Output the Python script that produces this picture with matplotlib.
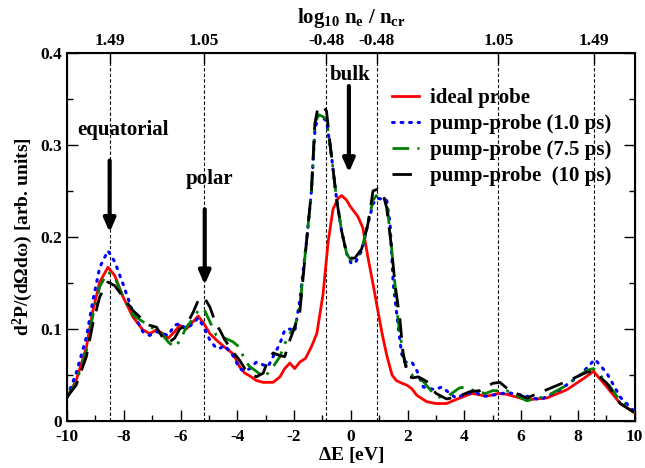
import matplotlib
matplotlib.use("Agg")
import matplotlib.pyplot as plt
from matplotlib.ticker import MultipleLocator

plt.rcParams['font.family'] = ['Liberation Serif', 'DejaVu Serif']
plt.rcParams['font.weight'] = 'bold'
plt.rcParams['axes.unicode_minus'] = False
plt.rcParams['mathtext.fontset'] = 'custom'
plt.rcParams['mathtext.rm'] = 'Liberation Serif:bold'
plt.rcParams['mathtext.it'] = 'Liberation Serif:bold'
plt.rcParams['mathtext.bf'] = 'Liberation Serif:bold'

# ---- data ----
red_E = [-10, -9.68, -9.32, -9.09, -8.85, -8.56, -8.32, -8.03, -7.68, -7.33, -7.09, -6.85, -6.62, -6.44,
         -6.21, -6.03, -5.8, -5.56, -5.38, -5.18, -4.97, -4.74, -4.44, -4.15, -3.92, -3.74, -3.56, -3.33,
         -3.09, -2.74, -2.5, -2.33, -2.15, -1.98, -1.8, -1.6, -1.4, -1.2, -0.98, -0.8, -0.63, -0.45, -0.33,
         -0.15, -0.04, 0.25, 0.42, 0.6, 0.78, 0.95, 1.1, 1.26, 1.45, 1.6, 1.8, 1.97, 2.15, 2.32, 2.67, 3.0,
         3.37, 3.84, 4.26, 4.79, 5.2, 5.49, 6.2, 6.9, 7.61, 8.19, 8.55, 9.02, 9.49, 10]
red_v = [0.026, 0.044, 0.08, 0.12, 0.151, 0.167, 0.158, 0.135, 0.113, 0.099, 0.095, 0.099, 0.095, 0.09,
         0.097, 0.104, 0.1, 0.108, 0.114, 0.106, 0.095, 0.088, 0.08, 0.073, 0.059, 0.052, 0.049, 0.044,
         0.042, 0.042, 0.048, 0.057, 0.063, 0.057, 0.064, 0.068, 0.08, 0.095, 0.138, 0.195, 0.23, 0.242, 0.245,
         0.24, 0.234, 0.222, 0.21, 0.178, 0.149, 0.12, 0.095, 0.072, 0.05, 0.044, 0.041, 0.039, 0.035, 0.028,
         0.021, 0.019, 0.019, 0.025, 0.03, 0.027, 0.03, 0.029, 0.023, 0.025, 0.034, 0.046, 0.054, 0.037, 0.019,
         0.009]

blue_E = [-10, -9.68, -9.32, -9.09, -8.85, -8.56, -8.32, -8.03, -7.68, -7.33, -7.09, -6.85, -6.62, -6.44,
          -6.21, -6.03, -5.8, -5.56, -5.38, -5.18, -4.97, -4.74, -4.62, -4.44, -4.15, -3.92, -3.74, -3.56,
          -3.33, -3.09, -2.92, -2.74, -2.5, -2.33, -2.15, -1.98, -1.8, -1.56, -1.39, -1.27, -1.16, -1.0,
          -0.86, -0.68, -0.5, -0.33, -0.15, 0.0, 0.14, 0.38, 0.6, 0.78, 0.95, 1.26, 1.38, 1.49, 1.67, 1.79,
          1.9, 2.15, 2.32, 2.55, 2.96, 3.2, 3.7, 4.1, 4.4, 4.7, 5.0, 5.5, 6.07, 6.67, 7.37, 8.08, 8.6, 9.02,
          9.49, 10]
blue_v = [0.026, 0.052, 0.091, 0.131, 0.167, 0.185, 0.173, 0.149, 0.118, 0.097, 0.093, 0.097, 0.095, 0.093,
          0.104, 0.106, 0.1, 0.106, 0.112, 0.102, 0.088, 0.079, 0.079, 0.082, 0.071, 0.057, 0.054, 0.057,
          0.064, 0.061, 0.059, 0.07, 0.084, 0.099, 0.1, 0.097, 0.131, 0.196, 0.25, 0.315, 0.332, 0.33,
          0.326, 0.287, 0.24, 0.207, 0.182, 0.172, 0.171, 0.185, 0.214, 0.236, 0.242, 0.24, 0.215, 0.15,
          0.102, 0.073, 0.064, 0.064, 0.055, 0.037, 0.034, 0.037, 0.025, 0.03, 0.031, 0.027, 0.028, 0.031,
          0.028, 0.023, 0.034, 0.05, 0.067, 0.052, 0.026, 0.01]

green_E = [-10, -9.68, -9.32, -9.09, -8.85, -8.56, -8.32, -8.03, -7.68, -7.33, -7.09, -6.85, -6.62, -6.44,
           -6.21, -6.03, -5.8, -5.56, -5.38, -5.18, -4.97, -4.74, -4.62, -4.44, -4.15, -3.92, -3.74, -3.56,
           -3.33, -3.09, -2.92, -2.74, -2.5, -2.33, -2.15, -1.98, -1.8, -1.56, -1.39, -1.27, -1.16, -1.0,
           -0.86, -0.68, -0.5, -0.33, -0.15, 0.0, 0.14, 0.38, 0.6, 0.78, 0.95, 1.26, 1.43, 1.55, 1.66, 1.84,
           1.96, 2.2, 2.55, 2.9, 3.1, 3.46, 3.83, 4.06, 4.4, 4.75, 5.0, 5.49, 6.2, 6.9, 7.61, 8.31, 8.55,
           9.02, 9.49, 10]
green_v = [0.026, 0.042, 0.076, 0.115, 0.146, 0.162, 0.156, 0.135, 0.115, 0.108, 0.102, 0.1, 0.093, 0.086,
           0.08, 0.087, 0.102, 0.111, 0.12, 0.122, 0.108, 0.093, 0.091, 0.09, 0.086, 0.08, 0.066, 0.059,
           0.054, 0.048, 0.052, 0.059, 0.07, 0.084, 0.095, 0.102, 0.124, 0.196, 0.25, 0.318, 0.333, 0.331,
           0.328, 0.287, 0.24, 0.207, 0.182, 0.175, 0.175, 0.186, 0.215, 0.24, 0.247, 0.24, 0.189, 0.15,
           0.11, 0.073, 0.059, 0.048, 0.043, 0.03, 0.026, 0.028, 0.036, 0.037, 0.032, 0.03, 0.033, 0.033,
           0.022, 0.027, 0.039, 0.055, 0.057, 0.042, 0.022, 0.009]

black_E = [-10, -9.68, -9.32, -9.09, -8.85, -8.56, -8.32, -8.03, -7.68, -7.33, -7.09, -6.85, -6.62, -6.44,
           -6.21, -6.03, -5.8, -5.56, -5.38, -5.18, -4.97, -4.74, -4.62, -4.44, -4.15, -3.92, -3.74, -3.56,
           -3.33, -3.09, -2.92, -2.74, -2.5, -2.33, -2.15, -1.98, -1.8, -1.56, -1.39, -1.27, -1.16, -1.0,
           -0.86, -0.68, -0.5, -0.33, -0.15, 0.0, 0.14, 0.38, 0.6, 0.78, 0.95, 1.1, 1.26, 1.43, 1.55, 1.73,
           1.84, 2.01, 2.2, 2.38, 2.67, 3.0, 3.37, 3.73, 4.2, 4.55, 5.0, 5.25, 5.6, 6.2, 6.9, 7.6, 8.31,
           8.55, 9.02, 9.49, 10]
black_v = [0.026, 0.039, 0.07, 0.106, 0.135, 0.151, 0.147, 0.135, 0.12, 0.11, 0.104, 0.102, 0.09, 0.085,
           0.09, 0.1, 0.104, 0.118, 0.131, 0.135, 0.124, 0.104, 0.099, 0.088, 0.075, 0.066, 0.057, 0.052,
           0.048, 0.052, 0.066, 0.074, 0.071, 0.07, 0.088, 0.102, 0.118, 0.196, 0.25, 0.323, 0.341, 0.342,
           0.337, 0.287, 0.24, 0.207, 0.182, 0.177, 0.177, 0.187, 0.214, 0.25, 0.252, 0.25, 0.232, 0.189,
           0.15, 0.11, 0.073, 0.048, 0.047, 0.048, 0.043, 0.03, 0.024, 0.026, 0.032, 0.033, 0.041, 0.042,
           0.033, 0.025, 0.034, 0.043, 0.053, 0.054, 0.041, 0.019, 0.009]

series_labels = ["ideal probe", "pump-probe (1.0 ps)", "pump-probe (7.5 ps)", "pump-probe  (10 ps)"]

vline_E = [-8.5, -5.18, -0.87, 0.91, 5.2, 8.55]
top_labels = ["1.49", "1.05", "-0.48", "-0.48", "1.05", "1.49"]

x_ticks = [-10, -8, -6, -4, -2, 0, 2, 4, 6, 8, 10]
y_ticks = [0, 0.1, 0.2, 0.3, 0.4]

# ---- figure ----
fig = plt.figure(figsize=(6.45, 4.68), dpi=100)
ax = fig.add_axes([0.104, 0.1004, 0.88, 0.7866])

for xv in vline_E:
    ax.axvline(xv, color='black', lw=0.8, ls=(0, (3, 2)), zorder=1)

ax.plot(red_E, red_v, color='red', lw=2.0, ls='-', label=series_labels[0], zorder=3)
ax.plot(blue_E, blue_v, color='blue', lw=2.2, ls=(0, (0.6, 2.2)), dash_capstyle='round',
        label=series_labels[1], zorder=4)
ax.plot(green_E, green_v, color='green', lw=2.0, ls=(0, (6, 3, 1, 3)), label=series_labels[2], zorder=4)
ax.plot(black_E, black_v, color='black', lw=2.0, ls=(0, (7, 4)), label=series_labels[3], zorder=5)

ax.set_xlim(-10, 10)
ax.set_ylim(0, 0.4)
ax.set_xticks(x_ticks)
ax.set_yticks(y_ticks)
ax.set_yticklabels(["0", "0.1", "0.2", "0.3", "0.4"])
ax.xaxis.set_minor_locator(MultipleLocator(1))
ax.yaxis.set_minor_locator(MultipleLocator(0.05))
ax.tick_params(which='major', direction='in', length=8, width=1, labelsize=12.5, top=False, right=True)
ax.tick_params(which='minor', direction='in', length=4, width=1, top=False, right=True)
ax.tick_params(axis='x', which='major', pad=6)
for sp in ax.spines.values():
    sp.set_linewidth(1.5)

ax.set_xlabel(r"$\Delta$E [eV]", fontsize=14, fontweight='bold', labelpad=0)
ax.set_ylabel(r"d$^2$P/(d$\Omega$d$\omega$) [arb. units]", fontsize=14, fontweight='bold', labelpad=4)

ax2 = ax.twiny()
ax2.set_xlim(-10, 10)
ax2.set_xticks(vline_E)
ax2.set_xticklabels(top_labels)
ax2.tick_params(direction='in', length=8, width=1, labelsize=12.5, pad=3)
ax2.set_xlabel(r"log$_{10}$ n$_e$ / n$_{cr}$", fontsize=15, fontweight='bold', labelpad=7)

arrowprops = dict(arrowstyle='-|>,head_length=0.8,head_width=0.35', color='black', lw=3, shrinkA=0, shrinkB=0)
ax.annotate("", xy=(-8.5, 0.205), xytext=(-8.5, 0.283), arrowprops=arrowprops, zorder=6)
ax.text(-8.04, 0.316, "equatorial", ha='center', va='center', fontsize=15, fontweight='bold')
ax.annotate("", xy=(-5.15, 0.148), xytext=(-5.15, 0.230), arrowprops=arrowprops, zorder=6)
ax.text(-4.97, 0.263, "polar", ha='center', va='center', fontsize=15, fontweight='bold')
ax.annotate("", xy=(-0.07, 0.270), xytext=(-0.07, 0.364), arrowprops=arrowprops, zorder=6)
ax.text(-0.04, 0.376, "bulk", ha='center', va='center', fontsize=15, fontweight='bold')

leg = ax.legend(loc='upper left', bbox_to_anchor=(0.565, 0.915), frameon=False, fontsize=15,
                handlelength=1.3, handletextpad=0.55, labelspacing=0.28, borderaxespad=0.0,
                borderpad=0.2)

fig.savefig("out.png", dpi=100)
